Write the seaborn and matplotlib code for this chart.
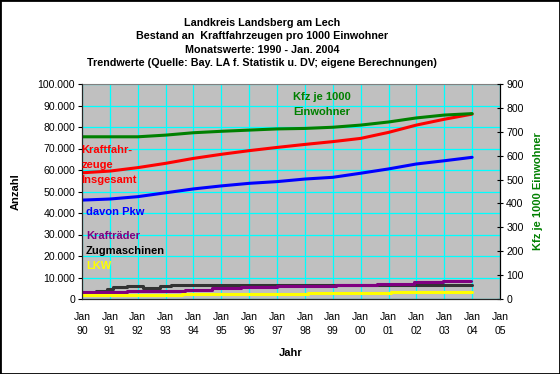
import matplotlib
matplotlib.use("Agg")
import matplotlib.pyplot as plt
from matplotlib.patches import Rectangle
import numpy as np
import pandas as pd
import seaborn as sns

# --- Daten (Januarwerte) ---
jahre = list(range(1990, 2005))
kfz_insgesamt = [58700, 59500, 61100, 63100, 65400, 67300, 69000, 70500,
                 71900, 73200, 74700, 77500, 80900, 83600, 86000]
pkw = [46000, 46500, 47600, 49400, 51200, 52600, 53800, 54600,
       55800, 56600, 58500, 60500, 62800, 64300, 65900]
kfz_je_1000 = [679, 679, 679, 686, 696, 702, 707, 712,
               714, 719, 728, 741, 758, 770, 776]

# Stufenwerte (Zeitpunkt der Änderung, Wert)
krad_t = [1990, 1991.6, 1993.7, 1994.65, 1995.7, 1997.0, 1999.1, 2000.6, 2001.9, 2002.95, 2003.95]
krad = [3300, 3850, 4350, 4950, 5450, 6050, 6650, 7100, 7750, 8250, 8500]
zug_t = [1990, 1990.5, 1990.9, 1991.1, 1991.6, 1992.2, 1992.8, 1993.2, 1993.6, 2004]
zug = [3300, 3850, 4650, 5450, 5900, 5250, 5900, 6350, 6600, 6600]
lkw_t = [1990, 1993.6, 1998.1, 2001.1, 2004]
lkw = [2000, 2450, 2950, 3400, 3400]

x_labels = ["Jan\n%02d" % (j % 100) for j in range(1990, 2006)]

df = pd.DataFrame({"jahr": jahre, "insgesamt": kfz_insgesamt, "pkw": pkw, "je1000": kfz_je_1000})

sns.set_style("white")
plt.rcParams["font.family"] = ["Liberation Sans", "DejaVu Sans"]
for k in ["text.color", "axes.labelcolor", "xtick.color", "ytick.color"]:
    plt.rcParams[k] = "black"

fig = plt.figure(figsize=(5.6, 3.74), dpi=100)
ax = fig.add_axes([82 / 560, 1 - 299 / 374, 418 / 560, 215 / 374])
ax.set_facecolor("#C0C0C0")

lw = 2.2
sns.lineplot(data=df, x="jahr", y="insgesamt", ax=ax, color="#FF0000", lw=lw)
sns.lineplot(data=df, x="jahr", y="pkw", ax=ax, color="#0000FF", lw=lw)
sns.lineplot(x=zug_t, y=zug, ax=ax, color="#333333", lw=lw, drawstyle="steps-post")
sns.lineplot(x=krad_t, y=krad, ax=ax, color="#800080", lw=lw, drawstyle="steps-post")
sns.lineplot(x=lkw_t, y=lkw, ax=ax, color="#FFFF00", lw=lw, drawstyle="steps-post")

ax.set_xlim(1990, 2005)
ax.set_ylim(0, 100000)
ax.set_xticks(range(1990, 2006))
ax.set_xticklabels(x_labels, fontsize=7.6, linespacing=1.55)
ax.set_yticks(range(0, 100001, 10000))
ax.set_yticklabels(["0" if v == 0 else f"{v:,}".replace(",", ".") for v in range(0, 100001, 10000)], fontsize=7.6)
ax.grid(True, color="#00FFFF", lw=0.9)
ax.set_axisbelow(True)
ax.tick_params(axis="both", direction="out", length=3, width=0.8, pad=2)
ax.tick_params(axis="x", pad=6)
ax.set_xlabel("Jahr", fontsize=8, fontweight="bold", labelpad=9)
ax.set_ylabel("Anzahl", fontsize=8, fontweight="bold", labelpad=12)
for s in ["left", "bottom", "right"]:
    ax.spines[s].set_color("black")
ax.spines["top"].set_color("#808080")

ax2 = ax.twinx()
sns.lineplot(data=df, x="jahr", y="je1000", ax=ax2, color="#008000", lw=lw)
ax2.set_ylim(0, 900)
ax2.set_yticks(range(0, 901, 100))
ax2.tick_params(axis="y", direction="inout", length=5, width=0.8, labelsize=7.6, pad=2)
ax2.set_ylabel("Kfz je 1000 Einwohner", fontsize=8, fontweight="bold", color="#008000", labelpad=7)
ax2.grid(False)
ax2.spines["top"].set_visible(False)
ax2.spines["right"].set_color("black")

# Beschriftungen im Diagramm
def lab(x, y, s, c):
    fig.text(x / 560, 1 - y / 374, s, color=c, fontsize=8, fontweight="bold", va="center", ha="left")

lab(81, 150, "Kraftfahr-", "#FF0000")
lab(81, 165, "zeuge", "#FF0000")
lab(81, 180, "Insgesamt", "#FF0000")
lab(86, 212, "davon Pkw", "#0000FF")
lab(86, 236, "Krafträder", "#800080")
lab(86, 251, "Zugmaschinen", "#000000")
lab(86, 266, "LKW", "#FFFF00")
lab(293, 97, "Kfz je 1000", "#008000")
lab(293, 112, "Einwohner", "#008000")

titel = ["Landkreis Landsberg am Lech",
         "Bestand an  Kraftfahrzeugen pro 1000 Einwohner",
         "Monatswerte: 1990 - Jan. 2004",
         "Trendwerte (Quelle: Bay. LA f. Statistik u. DV; eigene Berechnungen)"]
for i, t in enumerate(titel):
    fig.text(262 / 560, 1 - (23 + i * 13.3) / 374, t, fontsize=7.75, fontweight="bold", ha="center", va="center")

fig.patches.append(Rectangle((0, 0), 1, 1, transform=fig.transFigure, fill=False,
                             edgecolor="black", lw=2, zorder=10))

fig.savefig("out.png", dpi=100)
